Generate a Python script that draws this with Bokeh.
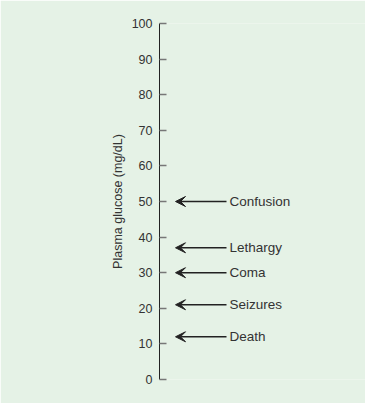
from bokeh.plotting import figure
from bokeh.models import Range1d, ColumnDataSource, Arrow, VeeHead, FixedTicker
from bokeh.embed import file_html
from bokeh.resources import INLINE
from bokeh.core.properties import value

symptoms = ["Confusion", "Lethargy", "Coma", "Seizures", "Death"]
glucose = [50, 37, 30, 21, 12]
y_ticks = [0, 10, 20, 30, 40, 50, 60, 70, 80, 90, 100]

BG = "#e5f2e6"
FONT = "Liberation Sans"
INK = "#222222"

p = figure(width=365, height=403, output_backend="svg", toolbar_location=None,
           x_range=Range1d(0, 206), y_range=Range1d(0, 100),
           min_border_left=159, min_border_right=0, min_border_top=23, min_border_bottom=24)
p.background_fill_color = BG
p.border_fill_color = BG
p.outline_line_color = None
p.grid.visible = False
p.xaxis.visible = False

ax = p.yaxis[0]
ax.ticker = FixedTicker(ticks=y_ticks)
ax.axis_label = "Plasma glucose (mg/dL)"
ax.axis_label_text_font = FONT
ax.axis_label_text_font_size = "12.5px"
ax.axis_label_text_font_style = "normal"
ax.axis_label_text_color = "#333333"
ax.axis_label_standoff = 4
ax.major_label_text_font = FONT
ax.major_label_text_font_size = "12.5px"
ax.major_label_text_color = "#333333"
ax.major_label_standoff = 7
ax.major_tick_in = 7
ax.major_tick_out = 0
ax.major_tick_line_color = "#777777"
ax.major_tick_line_width = 1.5
ax.minor_tick_line_color = None
ax.axis_line_color = INK

src = ColumnDataSource(dict(y=glucose, label=symptoms,
                            xs=[67] * len(glucose), xe=[16] * len(glucose),
                            xt=[70] * len(glucose)))
p.add_layout(Arrow(end=VeeHead(size=10, fill_color=INK, line_color=INK, line_width=1),
                   x_start="xs", y_start="y", x_end="xe", y_end="y",
                   line_color=INK, line_width=1.6, source=src))
p.text(x="xt", y="y", text="label", source=src, text_font=value(FONT),
       text_font_size="13.5px", text_color="#333333", text_baseline="middle",
       text_align="left")

html = file_html(p, INLINE)
html = html.replace("<body>", '<body style="background:%s">' % BG, 1)
open("out.html", "w").write(html)
